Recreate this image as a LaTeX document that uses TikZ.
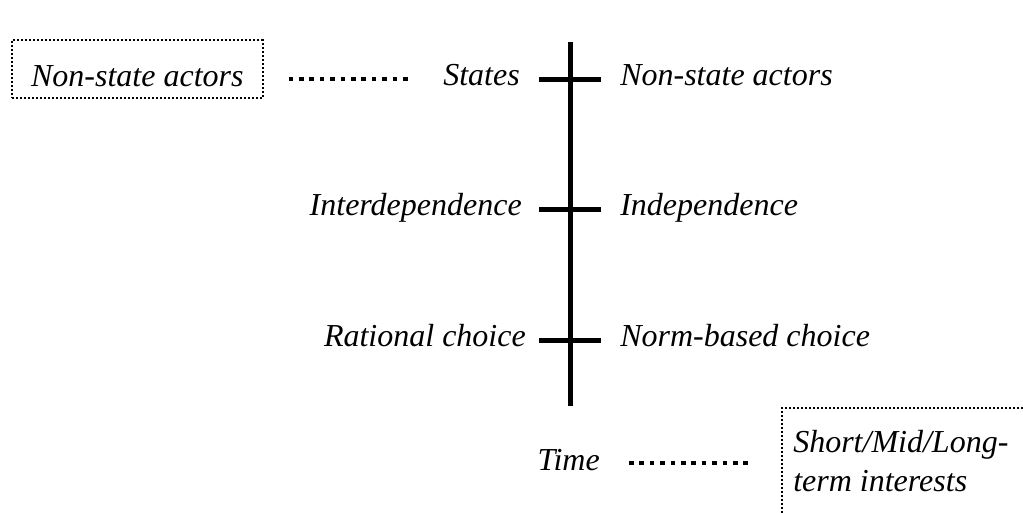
\documentclass[tikz,border=0pt]{standalone}
\usepackage{fontspec}
\setmainfont{Liberation Serif}
\usetikzlibrary{calc}
\begin{document}
\begin{tikzpicture}[x=0.75pt,y=-0.75pt,
  lbl/.style={inner sep=0pt,font=\fontsize{24}{29.25}\selectfont\itshape},
  axis/.style={line width=3.75pt},
  dotline/.style={line width=3.2pt,dash pattern=on 3.4pt off 4.4pt},
  dotbox/.style={draw,line width=1.5pt,dash pattern=on 1.5pt off 1.5pt}]
\useasboundingbox (0,0) rectangle (1023,512);
% axis coordinates
\coordinate (top) at (570,42);
\coordinate (bot) at (570,406);
\coordinate (t1) at (570,79);
\coordinate (t2) at (570,209);
\coordinate (t3) at (570,340);
\draw[axis] (top) -- (bot);
\foreach \t in {t1,t2,t3}{\draw[axis] ($(\t)+(-31,0)$) -- ($(\t)+(31,0)$);}
% labels
\node[lbl,anchor=base east] (states) at (520,85) {States};
\node[lbl,anchor=base west] (nsa) at (620,85) {Non-state actors};
\node[lbl,anchor=base east] (inter) at (522,215) {Interdependence};
\node[lbl,anchor=base west] (indep) at (620,215) {Independence};
\node[lbl,anchor=base east] (rat) at (526,346) {Rational choice};
\node[lbl,anchor=base west] (norm) at (620,346) {Norm-based choice};
% left box
\node[lbl,dotbox,anchor=base west,text height=27pt,text depth=1.5pt,inner ysep=7.5pt,inner xsep=0pt,minimum width=188pt] (box1) at (11,86) {Non-state actors};
\draw[dotline] ($(box1.east |- t1)+(25,0)$) -- ($(states.west |- t1)+(-34,0)$);
% bottom
\coordinate (tm) at (570,463);
\node[lbl,anchor=base east] (time) at (600,470) {Time};
\node[dotbox,anchor=north west,minimum width=270pt,minimum height=100pt,inner sep=0pt] (box2) at (781,407) {};
\node[lbl,anchor=north west,align=left] (interest) at (793,430) {Short/Mid/Long-\\term interests};
\draw[dotline] ($(time.east |- tm)+(29,0)$) -- ($(box2.west |- tm)+(-30,0)$);
\end{tikzpicture}
\end{document}
